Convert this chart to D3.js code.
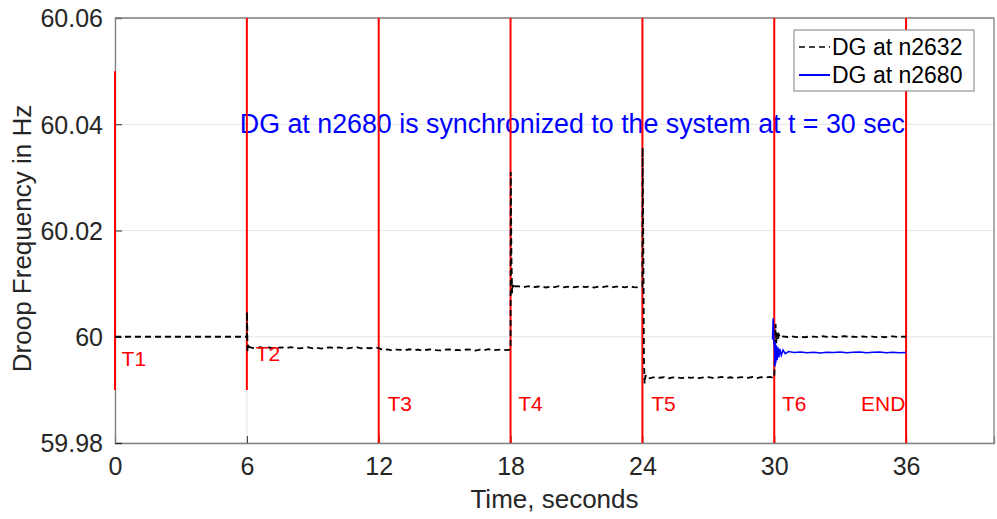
<!DOCTYPE html>
<html>
<head>
<meta charset="utf-8">
<script src="https://cdn.jsdelivr.net/npm/d3@7"></script>
<style>
  html, body { margin: 0; padding: 0; background: #fff; }
  svg { display: block; font-family: "Liberation Sans", Arial, sans-serif; }
</style>
</head>
<body>
<svg id="chart" width="997" height="519"></svg>
<script>
// Axis ticks
const xTicks = [0, 6, 12, 18, 24, 30, 36];
const yTicks = [59.98, 60.0, 60.02, 60.04, 60.06];
const yTickLabels = ["59.98", "60", "60.02", "60.04", "60.06"];

// Event markers (red vertical lines): time, lower and upper frequency
const eventTimes = [0, 6, 12, 18, 24, 30, 36];
const eventLow  = [59.99, 59.99, 59.98, 59.98, 59.98, 59.98, 59.98];
const eventHigh = [60.05, 60.06, 60.06, 60.06, 60.06, 60.06, 60.06];
const eventNames = ["T1", "T2", "T3", "T4", "T5", "T6", "END"];

// Droop frequency of the generator at bus n2632 [time s, frequency Hz]
const dgN2632 = [
  [0.0, 60.0], [6.0, 60.0],
  [6.01, 60.0047], [6.03, 59.9972], [6.05, 59.9985], [6.08, 59.9976], [6.12, 59.9981],
  [6.2, 59.99793], [6.4, 59.99782], [6.6, 59.99802], [6.8, 59.99786], [7.0, 59.99797],
  [7.2, 59.99779], [7.4, 59.99792], [7.6, 59.99799], [7.8, 59.99784], [8.0, 59.99804],
  [8.2, 59.99787], [8.4, 59.99781], [8.6, 59.99795], [8.8, 59.99800], [9.0, 59.99783],
  [9.2, 59.99791], [9.4, 59.99778], [9.6, 59.99796], [9.8, 59.99798], [10.0, 59.99788],
  [10.2, 59.99801], [10.4, 59.99785], [10.6, 59.99780], [10.8, 59.99794], [11.0, 59.99803],
  [11.2, 59.99782], [11.4, 59.99792], [11.6, 59.99784], [11.8, 59.99799], [12.0, 59.99787],
  [12.2, 59.99748], [12.4, 59.99761], [12.6, 59.99741], [12.8, 59.99758], [13.0, 59.99754],
  [13.2, 59.99744], [13.4, 59.99764], [13.6, 59.99747], [13.8, 59.99759], [14.0, 59.99739],
  [14.2, 59.99755], [14.4, 59.99762], [14.6, 59.99750], [14.8, 59.99743], [15.0, 59.99757],
  [15.2, 59.99763], [15.4, 59.99746], [15.6, 59.99753], [15.8, 59.99742], [16.0, 59.99760],
  [16.2, 59.99756], [16.4, 59.99740], [16.6, 59.99759], [16.8, 59.99749], [17.0, 59.99765],
  [17.2, 59.99745], [17.4, 59.99754], [17.6, 59.99761], [17.8, 59.99747], [18.0, 59.99758],
  [18.01, 60.0310], [18.04, 60.0150], [18.07, 60.0082], [18.1, 60.0098], [18.15, 60.0090],
  [18.2, 60.0095],
  [18.4, 60.00948], [18.6, 60.00932], [18.8, 60.00952], [19.0, 60.00929], [19.2, 60.00941],
  [19.4, 60.00950], [19.6, 60.00927], [19.8, 60.00943], [20.0, 60.00934], [20.2, 60.00953],
  [20.4, 60.00930], [20.6, 60.00945], [20.8, 60.00925], [21.0, 60.00940], [21.2, 60.00949],
  [21.4, 60.00933], [21.6, 60.00947], [21.8, 60.00926], [22.0, 60.00944], [22.2, 60.00936],
  [22.4, 60.00951], [22.6, 60.00928], [22.8, 60.00942], [23.0, 60.00946], [23.2, 60.00931],
  [23.4, 60.00950], [23.6, 60.00935], [23.8, 60.00929], [24.0, 60.00943],
  [24.01, 60.0356], [24.04, 60.0180], [24.07, 59.9960], [24.1, 59.9912], [24.14, 59.9928],
  [24.2, 59.9921],
  [24.4, 59.99224], [24.6, 59.99242], [24.8, 59.99228], [25.0, 59.99240], [25.2, 59.99219],
  [25.4, 59.99236], [25.6, 59.99233], [25.8, 59.99222], [26.0, 59.99244], [26.2, 59.99225],
  [26.4, 59.99239], [26.6, 59.99220], [26.8, 59.99235], [27.0, 59.99241], [27.2, 59.99226],
  [27.4, 59.99229], [27.6, 59.99243], [27.8, 59.99223], [28.0, 59.99237], [28.2, 59.99218],
  [28.4, 59.99234], [28.6, 59.99240], [28.8, 59.99227], [29.0, 59.99242], [29.2, 59.99221],
  [29.4, 59.99238], [29.6, 59.99230], [29.8, 59.99245], [30.0, 59.99225],
  [30.06, 60.0024], [30.09, 59.9988], [30.12, 60.0008], [30.16, 59.9994], [30.21, 60.0004],
  [30.28, 59.9998],
  [30.4, 60.00006], [30.6, 59.99995], [30.8, 60.00008], [31.0, 59.99993], [31.2, 60.00003],
  [31.4, 59.99991], [31.6, 60.00005], [31.8, 60.00001], [32.0, 59.99994], [32.2, 60.00009],
  [32.4, 59.99996], [32.6, 60.00007], [32.8, 59.99992], [33.0, 60.00002], [33.2, 60.00010],
  [33.4, 59.99995], [33.6, 60.00004], [33.8, 59.99993], [34.0, 60.00006], [34.2, 59.99997],
  [34.4, 60.00008], [34.6, 59.99994], [34.8, 60.00005], [35.0, 59.99991], [35.2, 60.00003],
  [35.4, 60.00007], [35.6, 59.99998], [35.8, 60.00001], [36.0, 60.00000]
];

// Droop frequency of the generator at bus n2680, connected at t = 30 s
const dgN2680 = [
  [29.92, 59.9995], [29.95, 60.0035], [29.98, 59.9990], [30.01, 59.9978], [30.03, 59.9944],
  [30.05, 59.9990], [30.07, 59.9950], [30.1, 59.9984], [30.13, 59.9956], [30.17, 59.9980],
  [30.21, 59.9961], [30.26, 59.9977], [30.32, 59.9965], [30.4, 59.9975], [30.5, 59.9968],
  [30.65, 59.9972],
  [30.9, 59.99703], [31.2, 59.99712], [31.5, 59.99700], [31.8, 59.99708], [32.1, 59.99695],
  [32.4, 59.99710], [32.7, 59.99702], [33.0, 59.99715], [33.3, 59.99699], [33.6, 59.99706],
  [33.9, 59.99711], [34.2, 59.99698], [34.5, 59.99707], [34.8, 59.99713], [35.1, 59.99701],
  [35.4, 59.99709], [35.7, 59.99697], [36.0, 59.99705]
];

const seriesNames = ["DG at n2632", "DG at n2680"];
const annotation = "DG at n2680 is synchronized to the system at t = 30 sec";

// Layout
const plotLeft = 115, plotRight = 994, plotTop = 18, plotBottom = 443;
const svg = d3.select("#chart");
const x = d3.scaleLinear().domain([0, 40]).range([plotLeft, plotRight]);
const y = d3.scaleLinear().domain([59.98, 60.06]).range([plotBottom, plotTop]);

const axisColor = "#808080";
const textColor = "#262626";

// Grid
const grid = svg.append("g");
grid.selectAll(".gx").data(xTicks).join("line")
  .attr("x1", d => x(d)).attr("x2", d => x(d))
  .attr("y1", plotTop).attr("y2", plotBottom)
  .attr("stroke", "#e6e6e6").attr("stroke-width", 1);
grid.selectAll(".gy").data(yTicks).join("line")
  .attr("x1", plotLeft).attr("x2", plotRight)
  .attr("y1", d => y(d)).attr("y2", d => y(d))
  .attr("stroke", "#e6e6e6").attr("stroke-width", 1);

// Axes with inward ticks
const xAxis = d3.axisBottom(x).tickValues(xTicks).tickSize(-7).tickPadding(14)
  .tickFormat(d3.format("d"));
const yAxis = d3.axisLeft(y).tickValues(yTicks).tickSize(-7).tickPadding(12)
  .tickFormat((d, i) => yTickLabels[i]);

const gx = svg.append("g").attr("transform", `translate(0,${plotBottom})`).call(xAxis);
const gy = svg.append("g").attr("transform", `translate(${plotLeft},0)`).call(yAxis);
[gx, gy].forEach(g => {
  g.select(".domain").attr("stroke", axisColor).attr("stroke-width", 1.3);
  g.selectAll(".tick line").attr("stroke", textColor).attr("stroke-width", 1);
  g.selectAll(".tick text").attr("fill", textColor)
    .style("font-size", "25px").style("font-family", "Liberation Sans, Arial, sans-serif");
});
gx.selectAll(".tick text").attr("dy", "0.71em");
gy.selectAll(".tick text").attr("dy", "0.35em");

// Box (top and right edges)
svg.append("line").attr("x1", plotLeft).attr("x2", plotRight).attr("y1", plotTop).attr("y2", plotTop)
  .attr("stroke", axisColor).attr("stroke-width", 1.3);
svg.append("line").attr("x1", plotRight).attr("x2", plotRight).attr("y1", plotTop).attr("y2", plotBottom)
  .attr("stroke", axisColor).attr("stroke-width", 1.3);

// Axis titles
svg.append("text")
  .attr("x", x(20)).attr("y", 508)
  .attr("text-anchor", "middle").attr("fill", textColor)
  .style("font-size", "26px").text("Time, seconds");
svg.append("text")
  .attr("transform", `translate(31,${(plotTop + plotBottom) / 2 + 8}) rotate(-90)`)
  .attr("text-anchor", "middle").attr("fill", textColor)
  .style("font-size", "26px").text("Droop Frequency in Hz");

// Annotation
svg.append("text")
  .attr("x", x(5.68)).attr("y", y(60.04) + 9)
  .attr("fill", "#0000ff").style("font-size", "26.8px")
  .text(annotation);

// Event markers
const events = eventTimes.map((t, i) => ({ t, lo: eventLow[i], hi: eventHigh[i], name: eventNames[i] }));
svg.append("g").selectAll("line").data(events).join("line")
  .attr("x1", d => x(d.t)).attr("x2", d => x(d.t))
  .attr("y1", d => y(d.hi)).attr("y2", d => y(d.lo))
  .attr("stroke", "#ff0000").attr("stroke-width", 2);

// Data lines
const line = d3.line().x(d => x(d[0])).y(d => y(d[1]));
svg.append("path").datum(dgN2632)
  .attr("d", line).attr("fill", "none")
  .attr("stroke", "#000").attr("stroke-width", 1.8)
  .attr("stroke-dasharray", "6,4");
svg.append("path").datum(dgN2680)
  .attr("d", line).attr("fill", "none")
  .attr("stroke", "#0000ff").attr("stroke-width", 1.5);

// Event labels
const labelPos = [
  { dt: 0.3, v: 59.9945 }, { dt: 0.4, v: 59.9955 }, { dt: 0.4, v: 59.986 },
  { dt: 0.35, v: 59.986 }, { dt: 0.4, v: 59.986 }, { dt: 0.35, v: 59.986 }, { dt: -2.05, v: 59.986 }
];
svg.append("g").selectAll("text").data(events).join("text")
  .attr("x", (d, i) => x(d.t + labelPos[i].dt))
  .attr("y", (d, i) => y(labelPos[i].v))
  .attr("fill", "#ff0000").style("font-size", "21px")
  .text(d => d.name);

// Legend
const lg = svg.append("g").attr("transform", "translate(794,30)");
lg.append("rect").attr("width", 180).attr("height", 61)
  .attr("fill", "#fff").attr("stroke", axisColor).attr("stroke-width", 1);
const legendItems = [
  { name: seriesNames[0], color: "#000", dash: "6,4", yy: 17 },
  { name: seriesNames[1], color: "#0000ff", dash: null, yy: 45 }
];
legendItems.forEach(it => {
  lg.append("line").attr("x1", 5).attr("x2", 36).attr("y1", it.yy).attr("y2", it.yy)
    .attr("stroke", it.color).attr("stroke-width", it.dash ? 1.6 : 2)
    .attr("stroke-dasharray", it.dash);
  lg.append("text").attr("x", 38).attr("y", it.yy + 8)
    .attr("fill", "#000").style("font-size", "23px").text(it.name);
});
</script>
</body>
</html>
